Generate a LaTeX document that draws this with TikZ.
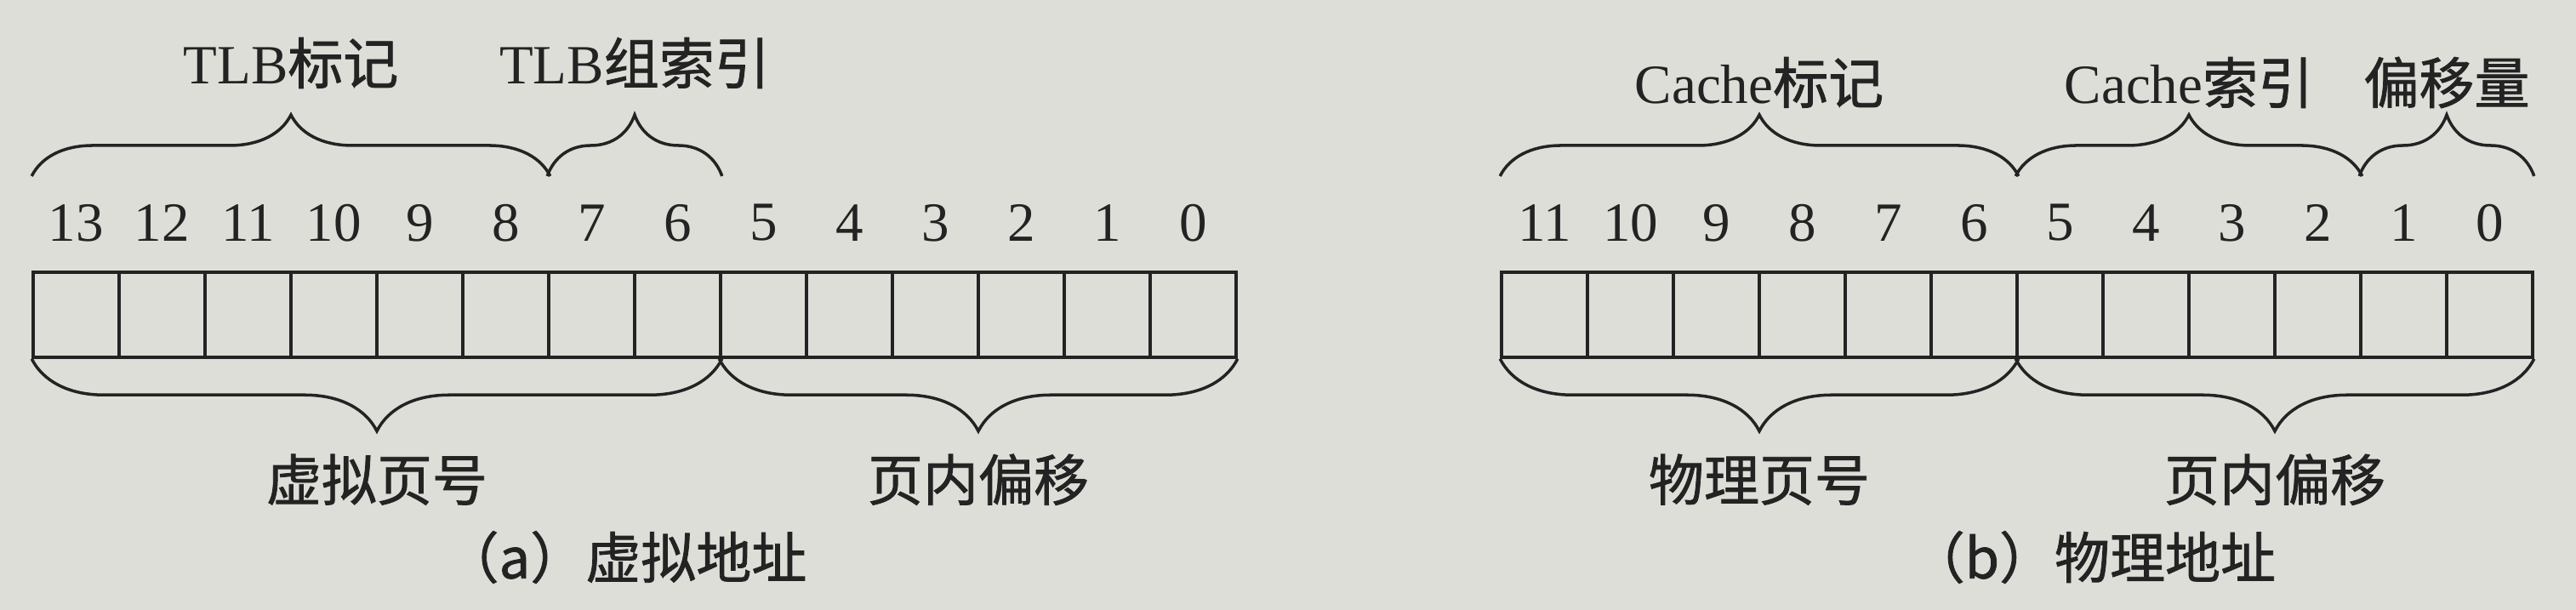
\documentclass[tikz,border=0pt]{standalone}
\usepackage{fontspec}
\setmainfont{Liberation Serif}
\newfontfamily\cjk{Noto Sans CJK SC}[FakeBold=1.2]
\usetikzlibrary{positioning,decorations.pathreplacing}
\definecolor{paper}{RGB}{222,222,217}
\definecolor{ink}{RGB}{35,35,35}
\newcommand{\bitfont}{\fontsize{18.5}{22}\selectfont}

\begin{document}
\begin{tikzpicture}[%
	cell/.style={
		rectangle,
		draw=ink,
		line width=1pt,
		minimum width=1.01cm,
		minimum height=1cm,
		inner sep=0pt
	},
	bit label/.style={
		text=ink,
		font=\bitfont,
		inner sep=0pt
	},
	field label/.style={
		text=ink,
		font=\bitfont,
		inner sep=0pt
	},
	top brace/.style={
		draw=ink,
		line width=1pt,
		decorate,
		decoration={brace,amplitude=0.72cm}
	},
	low brace/.style={
		draw=ink,
		line width=1pt,
		decorate,
		decoration={brace,amplitude=0.85cm}
	},
]
	\fill[paper] (0,0) rectangle (30.28,7.17);
	\coordinate (brace line) at (0,5.1);
	% (a) virtual address
	\foreach \i in {0,...,13}{
		\node[cell] (a\i) at ({0.39+(13.5-\i)*1.01},3.47) {};
		\node[bit label] (na\i) at ({0.39+(13.5-\i)*1.01},4.55) {\i};
	}
	\draw[top brace] (a13.west |- brace line) -- (a8.east |- brace line)
		node[field label,midway,yshift=1.33cm] {TLB{\cjk 标记}};
	\draw[top brace] (a7.west |- brace line) -- (a6.east |- brace line)
		node[field label,midway,yshift=1.33cm] {TLB{\cjk 组索引}};
	\draw[low brace] (a6.south east) -- (a13.south west)
		node[field label,midway,yshift=-1.42cm] {\cjk 虚拟页号};
	\draw[low brace] (a0.south east) -- (a5.south west)
		node[field label,midway,yshift=-1.42cm] {\cjk 页内偏移};
	\node[field label] (cap a) at (7.35,0.62) {\cjk （a）虚拟地址};
	% (b) physical address
	\foreach \i in {0,...,11}{
		\node[cell] (b\i) at ({17.65+(11.5-\i)*1.01},3.47) {};
		\node[bit label] (nb\i) at ({17.65+(11.5-\i)*1.01},4.55) {\i};
	}
	\draw[top brace] (b11.west |- brace line) -- (b6.east |- brace line)
		node[field label,midway,yshift=1.1cm] {Cache{\cjk 标记}};
	\draw[top brace] (b5.west |- brace line) -- (b2.east |- brace line)
		node[field label,midway,yshift=1.1cm] {Cache{\cjk 索引}};
	\draw[top brace] (b1.west |- brace line) -- (b0.east |- brace line)
		node[field label,midway,yshift=1.1cm] {\cjk 偏移量};
	\draw[low brace] (b6.south east) -- (b11.south west)
		node[field label,midway,yshift=-1.42cm] {\cjk 物理页号};
	\draw[low brace] (b0.south east) -- (b5.south west)
		node[field label,midway,yshift=-1.42cm] {\cjk 页内偏移};
	\node[field label] (cap b) at (24.6,0.62) {\cjk （b）物理地址};
\end{tikzpicture}
\end{document}
